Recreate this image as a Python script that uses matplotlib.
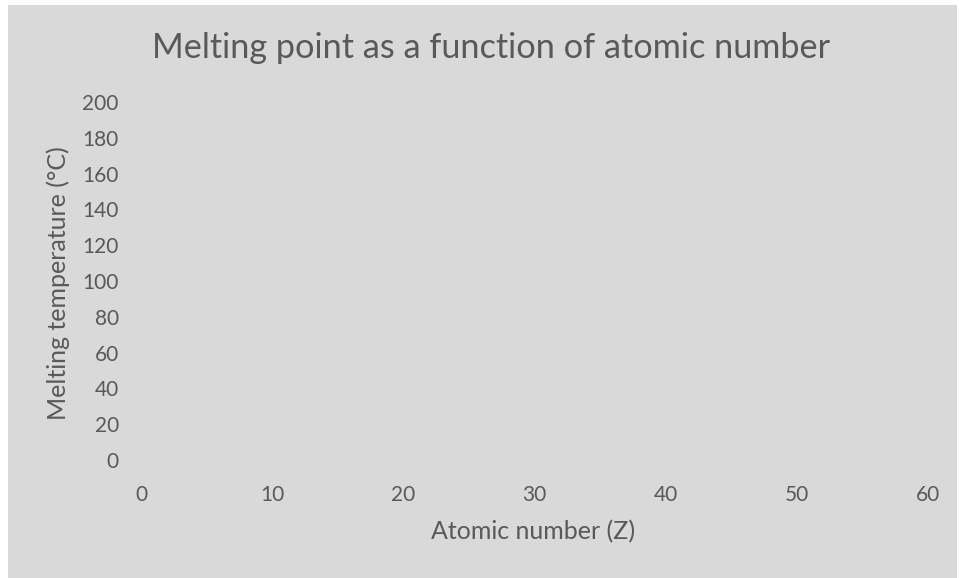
import matplotlib
matplotlib.use("Agg")
import matplotlib.pyplot as plt
from matplotlib.patches import Rectangle

plt.rcParams["font.family"] = ["Lato", "DejaVu Sans"]

# Data (the chart has no plotted series)
atomic_number = []
melting_temp = []
x_ticks = [0, 10, 20, 30, 40, 50, 60]
y_ticks = [0, 20, 40, 60, 80, 100, 120, 140, 160, 180, 200]

text_color = "#595959"
bg = "#d9d9d9"

fig = plt.figure(figsize=(9.59, 5.78), dpi=100, facecolor="white")
fig.patches.append(Rectangle((8 / 959, 0), 949 / 959, 573 / 578, transform=fig.transFigure,
                             facecolor=bg, edgecolor="none", zorder=-5))

ax = fig.add_axes([141 / 959, 118 / 578, 787 / 959, 358 / 578])
ax.set_facecolor("none")
ax.set_zorder(2)
ax.plot(atomic_number, melting_temp, marker="o", color="#4472c4")

ax.set_xlim(0, 60)
ax.set_ylim(0, 200)
ax.set_xticks(x_ticks)
ax.set_yticks(y_ticks)
for s in ax.spines.values():
    s.set_visible(False)
ax.tick_params(length=0, labelsize=15, labelcolor=text_color)
ax.tick_params(axis="x", pad=18)
ax.tick_params(axis="y", pad=16)

fig.text(533 / 959, 1 - 532 / 578, "Atomic number (Z)", fontsize=18, color=text_color,
         ha="center", va="center")
fig.text(58 / 959, 1 - 283 / 578, "Melting temperature (°C)", fontsize=18, color=text_color,
         ha="center", va="center", rotation=90)
fig.text(491 / 959, 1 - 48 / 578, "Melting point as a function of atomic number",
         fontsize=24.7, color=text_color, ha="center", va="center")

fig.savefig("out.png", dpi=100, facecolor="white")
